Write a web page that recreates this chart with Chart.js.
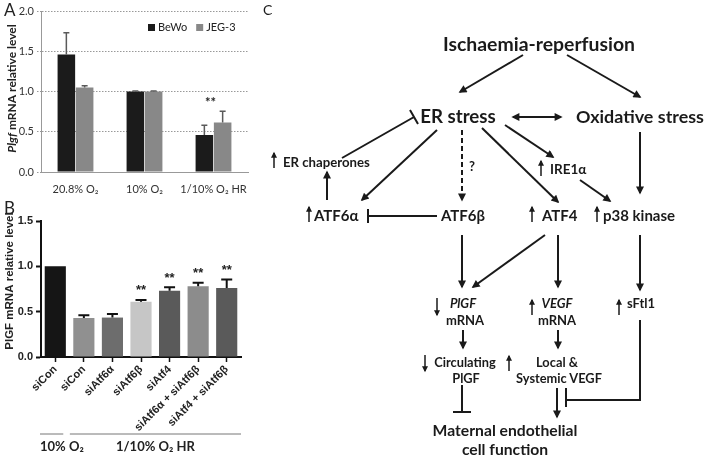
<!DOCTYPE html>
<html>
<head>
<meta charset="utf-8">
<script src="https://cdn.jsdelivr.net/npm/chart.js@4.4.0/dist/chart.umd.min.js"></script>
<style>
  body { margin: 0; background: #fff; }
  #wrap { position: relative; width: 709px; height: 455px; overflow: hidden; font-family: Lato, sans-serif; }
  canvas { position: absolute; }
  .panel { position: absolute; font-size: 17px; color: #222; }
  #diagram { position: absolute; left: 0; top: 0; }
</style>
</head>
<body>
<div id="wrap">
  <canvas id="chartA" width="260" height="195" style="left:0;top:0"></canvas>
  <canvas id="chartB" width="260" height="275" style="left:0;top:180px"></canvas>
  <div class="panel" style="left:4px;top:-1px">A</div>
  <div class="panel" style="left:4px;top:197px">B</div>
  <svg id="diagram" width="709" height="455"></svg>
</div>
<script>
// ---- panel A data ----
const catsA = ['20.8% O₂', '10% O₂', '1/10% O₂ HR'];
const bewo = [1.46, 1.0, 0.46];
const bewoErr = [0.27, 0.005, 0.12];
const jeg3 = [1.05, 1.0, 0.615];
const jeg3Err = [0.02, 0.005, 0.14];
const starsA = ['', '', '**'];

// ---- panel B data ----
const catsB = ['siCon', 'siCon', 'siAtf6α', 'siAtf6β', 'siAtf4', 'siAtf6α + siAtf6β', 'siAtf4 + siAtf6β'];
const plgfB = [1.0, 0.43, 0.435, 0.61, 0.73, 0.78, 0.76];
const plgfErrB = [0, 0.03, 0.04, 0.02, 0.04, 0.04, 0.095];
const starsB = ['', '', '', '**', '**', '**', '**'];
const groupLabelsB = ['10% O₂', '1/10% O₂ HR'];
const groupStartB = [0, 1];
const groupEndB = [0, 6];
const barColorsB = ['#151515', '#909090', '#6d6d6d', '#c6c6c6', '#5a5a5a', '#8c8c8c', '#5a5a5a'];

// error bars on top of each bar
const errorBars = {
  id: 'errorBars',
  afterDatasetsDraw(chart, args, opts) {
    const ctx = chart.ctx, y = chart.scales.y;
    ctx.save();
    ctx.strokeStyle = opts.color;
    ctx.lineWidth = opts.width;
    chart.data.datasets.forEach((ds, di) => {
      if (!ds.errors) return;
      chart.getDatasetMeta(di).data.forEach((bar, i) => {
        const e = ds.errors[i];
        if (!e) return;
        const top = y.getPixelForValue(ds.data[i] + e);
        ctx.beginPath();
        ctx.moveTo(bar.x, bar.y);
        ctx.lineTo(bar.x, top);
        ctx.moveTo(bar.x - opts.cap / 2, top);
        ctx.lineTo(bar.x + opts.cap / 2, top);
        ctx.stroke();
      });
    });
    ctx.restore();
  }
};

const stars = {
  id: 'stars',
  afterDatasetsDraw(chart, args, opts) {
    const ctx = chart.ctx, xs = chart.scales.x, ys = chart.scales.y;
    ctx.save();
    ctx.font = opts.font;
    ctx.fillStyle = '#222';
    ctx.textAlign = 'center';
    ctx.textBaseline = 'middle';
    opts.labels.forEach((s, i) => {
      if (!s) return;
      let top = 0;
      chart.data.datasets.forEach(ds => {
        top = Math.max(top, ds.data[i] + ((ds.errors || [])[i] || 0));
      });
      ctx.fillText(s, xs.getPixelForValue(i) + (opts.dx || 0), ys.getPixelForValue(top) - opts.offset);
    });
    ctx.restore();
  }
};

// rotated y title with mixed italic/bold parts
const yTitle = {
  id: 'yTitle',
  afterDraw(chart, args, opts) {
    const ctx = chart.ctx, a = chart.chartArea;
    ctx.save();
    ctx.translate(opts.x, (a.top + a.bottom) / 2 + (opts.dy || 0));
    ctx.rotate(-Math.PI / 2);
    ctx.textBaseline = 'middle';
    ctx.fillStyle = '#222';
    let w = 0;
    opts.parts.forEach(p => { ctx.font = p[1]; w += ctx.measureText(p[0]).width; });
    let cx = -w / 2;
    opts.parts.forEach(p => {
      ctx.font = p[1];
      ctx.fillText(p[0], cx, 0);
      cx += ctx.measureText(p[0]).width;
    });
    ctx.restore();
  }
};

const boxLegend = {
  id: 'boxLegend',
  afterDraw(chart, args, opts) {
    const ctx = chart.ctx;
    let x = opts.x;
    ctx.save();
    ctx.font = opts.font;
    ctx.textBaseline = 'middle';
    chart.data.datasets.forEach(ds => {
      ctx.fillStyle = ds.backgroundColor;
      ctx.fillRect(x, opts.y - 3, 7, 7);
      ctx.fillStyle = '#222';
      ctx.fillText(ds.label, x + 10, opts.y);
      x += 10 + ctx.measureText(ds.label).width + 9;
    });
    ctx.restore();
  }
};

const groups = {
  id: 'groups',
  afterDraw(chart, args, opts) {
    const ctx = chart.ctx, xs = chart.scales.x, a = chart.chartArea;
    const n = chart.data.labels.length;
    ctx.save();
    ctx.font = opts.font;
    ctx.fillStyle = '#222';
    ctx.strokeStyle = '#777';
    ctx.lineWidth = 1;
    ctx.textBaseline = 'middle';
    groupLabelsB.forEach((lab, g) => {
      const l = groupStartB[g] === 0 ? a.left - 1 : xs.getPixelForValue(groupStartB[g]) - 14;
      const r = groupEndB[g] === n - 1 ? a.right : xs.getPixelForValue(groupEndB[g]) + 8;
      ctx.beginPath();
      ctx.moveTo(l, opts.lineY);
      ctx.lineTo(r, opts.lineY);
      ctx.stroke();
      if (g === 0) { ctx.textAlign = 'left'; ctx.fillText(lab, l, opts.textY); }
      else { ctx.textAlign = 'center'; ctx.fillText(lab, (l + r) / 2, opts.textY); }
    });
    ctx.restore();
  }
};

// ---- chart A ----
new Chart(document.getElementById('chartA'), {
  type: 'bar',
  data: {
    labels: catsA,
    datasets: [
      { label: 'BeWo', data: bewo, errors: bewoErr, backgroundColor: '#1b1b1b' },
      { label: 'JEG-3', data: jeg3, errors: jeg3Err, backgroundColor: '#888888' }
    ]
  },
  options: {
    responsive: false,
    animation: false,
    layout: { padding: { top: 11, right: 12, left: 0, bottom: 0 } },
    datasets: { bar: { barPercentage: 0.96, categoryPercentage: 0.53 } },
    scales: {
      x: {
        afterFit: s => { s.height = 23; },
        grid: { display: false },
        border: { color: '#999', width: 1 },
        ticks: { color: '#333', font: { family: 'Lato', size: 11 }, padding: 3,
                 maxRotation: 0, minRotation: 0, autoSkip: false }
      },
      y: {
        min: 0, max: 2,
        afterFit: s => { s.width = 41; },
        ticks: { stepSize: 0.5, color: '#333', font: { family: 'Lato', size: 11 }, padding: 3,
                 callback: v => v.toFixed(1) },
        grid: { color: '#999', tickLength: 4, tickColor: '#999', tickBorderDash: [1.5, 1.5] },
        border: { color: '#999', width: 1, dash: [1.5, 1.5] }
      }
    },
    plugins: {
      legend: { display: false },
      tooltip: { enabled: false },
      errorBars: { color: '#5a5a5a', width: 1.5, cap: 6 },
      stars: { labels: starsA, font: 'bold 13px Lato', offset: 8, dx: -3 },
      yTitle: { x: 12, dy: -3, parts: [['Plgf', 'italic bold 12px Lato'], [' mRNA relative level', 'bold 12px Lato']] },
      boxLegend: { x: 148, y: 27, font: '11px Lato' }
    }
  },
  plugins: [errorBars, stars, yTitle, boxLegend]
});

// ---- chart B ----
new Chart(document.getElementById('chartB'), {
  type: 'bar',
  data: {
    labels: catsB,
    datasets: [
      { label: 'PlGF', data: plgfB, errors: plgfErrB, backgroundColor: barColorsB }
    ]
  },
  options: {
    responsive: false,
    animation: false,
    layout: { padding: { top: 41, right: 19, left: 0, bottom: 0 } },
    datasets: { bar: { barPercentage: 0.74, categoryPercentage: 1 } },
    scales: {
      x: {
        afterFit: s => { s.height = 98; },
        grid: { display: true, drawOnChartArea: false, offset: false, tickLength: 5, tickColor: '#111', tickWidth: 1.5 },
        border: { color: '#111', width: 2 },
        ticks: { color: '#222', font: { family: 'Liberation Sans', size: 11, weight: 'bold' },
                 minRotation: 45, maxRotation: 45, autoSkip: false, padding: 1 }
      },
      y: {
        min: 0, max: 1.5,
        afterFit: s => { s.width = 41; },
        ticks: { stepSize: 0.5, color: '#222', font: { family: 'Liberation Sans', size: 11, weight: 'bold' }, padding: 3,
                 callback: v => v.toFixed(1) },
        grid: { display: true, drawOnChartArea: false, tickLength: 5, tickColor: '#111', tickWidth: 2 },
        border: { color: '#111', width: 2 }
      }
    },
    plugins: {
      legend: { display: false },
      tooltip: { enabled: false },
      errorBars: { color: '#111', width: 2, cap: 11 },
      stars: { labels: starsB, font: 'bold 13px Liberation Sans', offset: 9 },
      yTitle: { x: 10, dy: -8, parts: [['PlGF mRNA relative level', 'bold 11.5px Liberation Sans']] },
      groups: { font: 'bold 13px Lato', lineY: 254, textY: 267 }
    }
  },
  plugins: [errorBars, stars, yTitle, groups]
});

// ---- panel C: pathway diagram (SVG) ----
const NS = 'http://www.w3.org/2000/svg';
const svg = document.getElementById('diagram');
function el(tag, attrs, parent, text) {
  const e = document.createElementNS(NS, tag);
  for (const k in attrs) e.setAttribute(k, attrs[k]);
  if (text != null) e.textContent = text;
  (parent || svg).appendChild(e);
  return e;
}
const defs = el('defs', {});
const mk = el('marker', { id: 'ah', viewBox: '0 0 10 10', refX: 8, refY: 5, markerWidth: 10, markerHeight: 8,
  orient: 'auto-start-reverse', markerUnits: 'userSpaceOnUse' }, defs);
el('path', { d: 'M0,0 L10,5 L0,10 z', fill: '#1a1a1a' }, mk);
const mks = el('marker', { id: 'ahs', viewBox: '0 0 10 10', refX: 8, refY: 5, markerWidth: 7, markerHeight: 6,
  orient: 'auto', markerUnits: 'userSpaceOnUse' }, defs);
el('path', { d: 'M0,0 L10,5 L0,10 z', fill: '#1a1a1a' }, mks);

const arrows = [
  [523, 55, 460, 92], [567, 55, 640, 97], [437, 130, 362, 200], [482, 128, 558, 202],
  [505, 125, 553, 157], [580, 180, 610, 201], [640, 132, 640, 193], [327, 200, 327, 172],
  [462, 235, 462, 287], [545, 235, 473, 287], [558, 235, 558, 287], [640, 235, 640, 290],
  [463, 330, 463, 348], [558, 330, 558, 348], [557, 388, 557, 417]
];
arrows.forEach(a => el('line', { x1: a[0], y1: a[1], x2: a[2], y2: a[3], stroke: '#1a1a1a', 'stroke-width': 2, 'marker-end': 'url(#ah)' }));
el('line', { x1: 513, y1: 117, x2: 561, y2: 117, stroke: '#1a1a1a', 'stroke-width': 2, 'marker-start': 'url(#ah)', 'marker-end': 'url(#ah)' });
el('line', { x1: 462, y1: 130, x2: 462, y2: 200, stroke: '#1a1a1a', 'stroke-width': 2, 'stroke-dasharray': '5,3', 'marker-end': 'url(#ah)' });

const small = [
  [274, 168, 274, 153], [541, 176, 541, 161], [309, 222, 309, 207], [532, 222, 532, 207], [597, 222, 597, 207],
  [437, 298, 437, 315], [532, 315, 532, 300], [619, 315, 619, 300], [425, 355, 425, 371], [509, 371, 509, 356]
];
small.forEach(a => el('line', { x1: a[0], y1: a[1], x2: a[2], y2: a[3], stroke: '#1a1a1a', 'stroke-width': 1.5, 'marker-end': 'url(#ahs)' }));

// inhibition (blunt) connectors
const blunt = [
  'M342,158 L414,117 M410,110 L418,124',
  'M437,216 L368,216 M368,209 L368,223',
  'M462,385 L462,412 M453,412 L471,412',
  'M640,320 L640,400 L566,400 M566,388 L566,407'
];
blunt.forEach(d => el('path', { d: d, fill: 'none', stroke: '#1a1a1a', 'stroke-width': 2 }));

const texts = [
  ['C', 263, 9, 14, 'start', 'normal', 'normal'],
  ['Ischaemia-reperfusion', 539, 43, 19.4, 'middle', 'bold', 'normal'],
  ['ER stress', 458, 116, 18.7, 'middle', 'bold', 'normal'],
  ['Oxidative stress', 640, 116, 17.9, 'middle', 'bold', 'normal'],
  ['ER chaperones', 283, 162, 13.2, 'start', 'bold', 'normal'],
  ['?', 472, 166, 13, 'middle', 'bold', 'normal'],
  ['IRE1α', 550, 169, 13.5, 'start', 'bold', 'normal'],
  ['ATF6α', 314, 215, 15, 'start', 'bold', 'normal'],
  ['ATF6β', 463, 215, 15, 'middle', 'bold', 'normal'],
  ['ATF4', 542, 215, 15, 'start', 'bold', 'normal'],
  ['p38 kinase', 603, 215, 15, 'start', 'bold', 'normal'],
  ['PlGF', 463, 303, 13, 'middle', 'bold', 'italic'],
  ['mRNA', 465, 320, 13, 'middle', 'bold', 'normal'],
  ['VEGF', 557, 303, 13, 'middle', 'bold', 'italic'],
  ['mRNA', 557, 320, 13, 'middle', 'bold', 'normal'],
  ['sFtl1', 641, 303, 13, 'middle', 'bold', 'normal'],
  ['Circulating', 465, 362, 12.8, 'middle', 'bold', 'normal'],
  ['PlGF', 466, 378, 12.8, 'middle', 'bold', 'normal'],
  ['Local &', 557, 362, 12.8, 'middle', 'bold', 'normal'],
  ['Systemic VEGF', 559, 378, 12.8, 'middle', 'bold', 'normal'],
  ['Maternal endothelial', 505, 430, 15.7, 'middle', 'bold', 'normal'],
  ['cell function', 505, 449, 15.7, 'middle', 'bold', 'normal']
];
texts.forEach(t => el('text', { x: t[1], y: t[2], 'font-size': t[3], 'text-anchor': t[4], 'font-weight': t[5],
  'font-style': t[6], 'font-family': 'Lato, sans-serif', 'dominant-baseline': 'central', fill: '#1a1a1a' }, null, t[0]));
</script>
</body>
</html>
